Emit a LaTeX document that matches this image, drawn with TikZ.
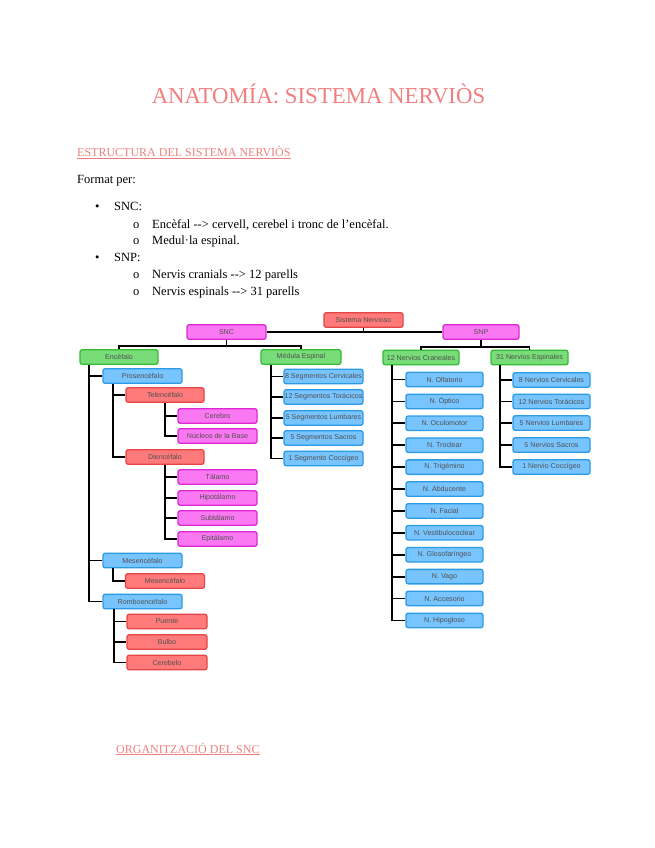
\documentclass[tikz,border=0pt]{standalone}
\usepackage{fontspec}
\setmainfont{Liberation Serif}
\newfontfamily\boxfont{Liberation Sans}
\definecolor{titlepink}{HTML}{F27F7F}
\definecolor{redF}{HTML}{FF7A7A}
\definecolor{redD}{HTML}{E54545}
\definecolor{magF}{HTML}{FA78F2}
\definecolor{magD}{HTML}{DD28D2}
\definecolor{greF}{HTML}{78DC78}
\definecolor{greD}{HTML}{35BB35}
\definecolor{bluF}{HTML}{78C4FF}
\definecolor{bluD}{HTML}{2C9BE6}
\definecolor{boxtext}{HTML}{505050}
\newcommand{\arrw}{\hbox{-}\hbox{-}\hbox{>}}
\tikzset{
  bx/.style={draw, rounded corners=2.2pt, line width=1.3pt, minimum width=79pt,
    minimum height=14.5pt, inner sep=0pt, text=boxtext,
    font=\boxfont\fontsize{7.1}{8}\selectfont},
  rbx/.style={bx, fill=redF, draw=redD},
  mbx/.style={bx, fill=magF, draw=magD},
  gbx/.style={bx, fill=greF, draw=greD},
  bbx/.style={bx, fill=bluF, draw=bluD},
  con/.style={line width=1.8pt, black, line join=miter},
  body/.style={anchor=base west, inner sep=0pt, font=\fontsize{12.5}{14}\selectfont},
  head/.style={anchor=base west, inner sep=0pt, text=titlepink, font=\fontsize{12}{14}\selectfont},
}
\begin{document}
\begin{tikzpicture}[x=1pt,y=-1pt]
\useasboundingbox[fill=white] (0,0) rectangle (655,848);
% texts
\node[anchor=base, inner sep=0pt, text=titlepink, font=\fontsize{22.8}{26}\selectfont] (title) at (318.5,103) {ANATOMÍA: SISTEMA NERVIÒS};
\node[head] (h1) at (77,157) {\underline{ESTRUCTURA DEL SISTEMA NERVIÒS}};
\node[body] (fmt) at (77,183) {Format per:};
\node[body] (b1) at (95,210) {•};
\node[body] (t1) at (114,210) {SNC:};
\node[body] (o1) at (133,228) {o};
\node[body] (t2) at (152,228) {Encèfal \arrw{} cervell, cerebel i tronc de l’encèfal.};
\node[body] (o2) at (133,244.5) {o};
\node[body] (t3) at (152,244.5) {Medul·la espinal.};
\node[body] (b2) at (95,261) {•};
\node[body] (t4) at (114,261) {SNP:};
\node[body] (o3) at (133,278) {o};
\node[body] (t5) at (152,278) {Nervis cranials \arrw{} 12 parells};
\node[body] (o4) at (133,295) {o};
\node[body] (t6) at (152,295) {Nervis espinals \arrw{} 31 parells};
\node[head] (h2) at (116,753) {\underline{ORGANITZACIÓ DEL SNC}};

% top level
\node[rbx] (sn) at (363.5,320) {Sistema Nervioso};
\node[mbx] (snc) at (226.5,332) {SNC};
\node[mbx, minimum width=76pt] (snp) at (481,332) {SNP};
\node[gbx, minimum width=78pt] (enc) at (119,357) {Encéfalo};
\node[gbx, minimum width=80pt] (med) at (301,357) {Médula Espinal};
\node[gbx, minimum width=76pt] (cra) at (421,357.5) {12 Nervios Craneales};
\node[gbx, minimum width=77pt] (esp) at (529.5,357.5) {31 Nervios Espinales};

% encefalo tree
\node[bbx] (pros) at (142.5,376) {Prosencéfalo};
\node[rbx, minimum width=78pt] (tel) at (165,395) {Telencéfalo};
\node[mbx] (cer) at (217.5,416) {Cerebro};
\node[mbx] (nuc) at (217.5,436) {Núcleos de la Base};
\node[rbx, minimum width=78pt] (dien) at (165,457) {Diencéfalo};
\node[mbx] (tal) at (217.5,477) {Tálamo};
\node[mbx] (hip) at (217.5,498) {Hipotálamo};
\node[mbx] (sub) at (217.5,518) {Subtálamo};
\node[mbx] (epi) at (217.5,539) {Epitálamo};
\node[bbx] (mesb) at (142.5,560.5) {Mesencéfalo};
\node[rbx] (mesr) at (165,581) {Mesencéfalo};
\node[bbx] (romb) at (142.5,601.5) {Romboencéfalo};
\node[rbx, minimum width=80pt] (pue) at (167,621.5) {Puente};
\node[rbx, minimum width=80pt] (bul) at (167,642) {Bulbo};
\node[rbx, minimum width=80pt] (cbl) at (167,662.5) {Cerebelo};

% medula
\node[bbx] (m1) at (323.5,376.5) {8 Segmentos Cervicales};
\node[bbx] (m2) at (323.5,397) {12 Segmentos Torácicos};
\node[bbx] (m3) at (323.5,418) {5 Segmentos Lumbares};
\node[bbx] (m4) at (323.5,438) {5 Segmentos Sacros};
\node[bbx] (m5) at (323.5,458.5) {1 Segmento Coccígeo};

% craneales
\foreach \t [count=\i from 0] in {N. Olfatorio, N. Óptico, N. Oculomotor, N. Troclear, N. Trigémino, N. Abducente, N. Facial, N. Vestibulococlear, N. Glosofaríngeo, N. Vago, N. Accesorio, N. Hipogloso}
  \node[bbx, minimum width=77pt] (c\i) at (444.5,379.5+21.9*\i) {\t};

% espinales
\node[bbx, minimum width=77pt] (e1) at (551.5,380) {8 Nervios Cervicales};
\node[bbx, minimum width=77pt] (e2) at (551.5,401.5) {12 Nervios Torácicos};
\node[bbx, minimum width=77pt] (e3) at (551.5,423) {5 Nervios Lumbares};
\node[bbx, minimum width=77pt] (e4) at (551.5,445) {5 Nervios Sacros};
\node[bbx, minimum width=77pt] (e5) at (551.5,467) {1 Nervio Coccígeo};

% connectors
\draw[con] (snc.east) -- (snp.west);
\draw[con] (sn.south) -- (sn.south |- snc.east);
\coordinate (busL) at ([yshift=3pt]enc.north);
\draw[con] (snc.south) -- (snc.south |- busL);
\draw[con] (enc.north) -- (busL) -| (med.north);
\coordinate (busR) at ([yshift=3pt]cra.north);
\draw[con] (snp.south) -- (snp.south |- busR);
\draw[con] (cra.north) -- (busR) -| (esp.north);

\foreach \c in {pros,mesb,romb} \draw[con] ([xshift=10pt]enc.south west) |- (\c.west);
\foreach \c in {tel,dien} \draw[con] ([xshift=11pt]pros.south west) |- (\c.west);
\foreach \c in {cer,nuc} \draw[con] (tel.south) |- (\c.west);
\foreach \c in {tal,hip,sub,epi} \draw[con] (dien.south) |- (\c.west);
\draw[con] ([xshift=10.5pt]mesb.south west) |- (mesr.west);
\foreach \c in {pue,bul,cbl} \draw[con] ([xshift=12pt]romb.south west) |- (\c.west);
\foreach \c in {m1,m2,m3,m4,m5} \draw[con] ([xshift=11pt]med.south west) |- (\c.west);
\foreach \i in {0,...,11} \draw[con] ([xshift=10pt]cra.south west) |- (c\i.west);
\foreach \c in {e1,e2,e3,e4,e5} \draw[con] ([xshift=10pt]esp.south west) |- (\c.west);
\end{tikzpicture}
\end{document}
